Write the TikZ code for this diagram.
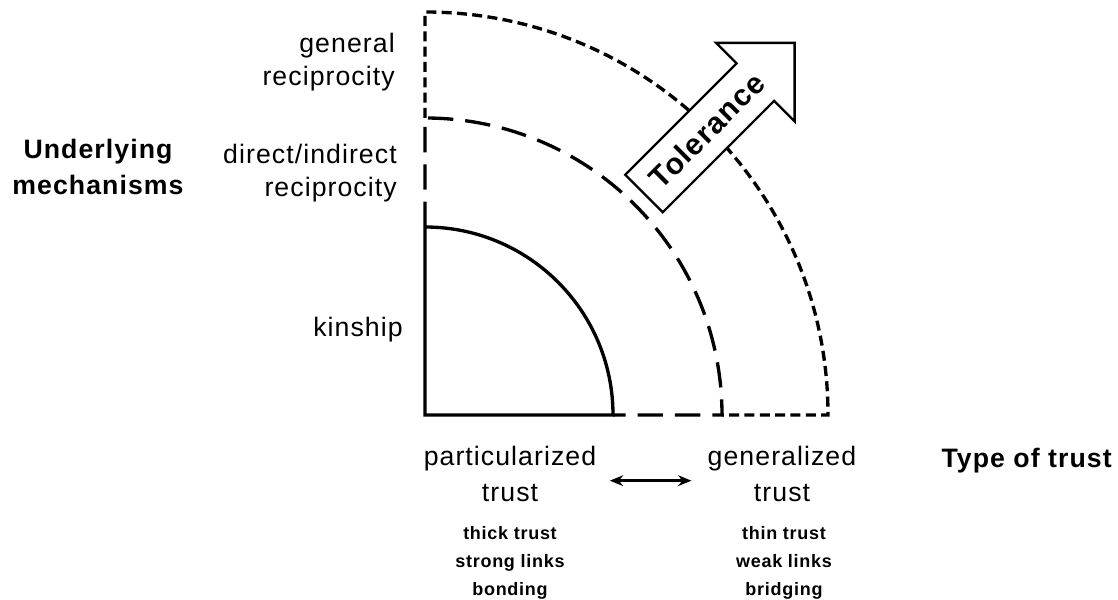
\documentclass[tikz,border=0pt]{standalone}
\usepackage{fontspec}
\setmainfont{Liberation Sans}[LetterSpace=4]
\usetikzlibrary{arrows.meta}
\tikzset{
  ring/.style={line width=2.5pt, line join=miter},
  shortdash/.style={ring, dash pattern=on 7.5pt off 4pt},
  longdash/.style={ring, dash pattern=on 19pt off 9pt},
  mech/.style={inner sep=0pt, align=right, font=\fontsize{20}{25}\selectfont},
  trusttype/.style={inner sep=0pt, align=center, font=\fontsize{20}{27.5}\selectfont},
  traits/.style={inner sep=0pt, align=center, font=\bfseries\fontsize{13.5}{21}\selectfont},
  axislabel/.style={inner sep=0pt, align=center, font=\bfseries\fontsize{20}{27.5}\selectfont}
}
\begin{document}
\begin{tikzpicture}[x=0.75pt, y=0.75pt]
  \useasboundingbox (0,0) rectangle (1118,600);
  \coordinate (O) at (425,185);
  % outer sector
  \draw[shortdash] (O) ++(0,297) -- ++(0,106) arc[start angle=90, end angle=0, radius=403] -- ++(-106,0);
  % tolerance arrow
  \begin{scope}[shift={(644,406.5)}, rotate=45]
    \draw[line width=1.8pt, fill=white] (0,-26.5) -- (157.5,-26.5) -- (157.5,-55.5) -- (213,0)
      -- (157.5,55.5) -- (157.5,26.5) -- (0,26.5) -- cycle;
    \node[rotate=45, inner sep=0pt, font=\bfseries\fontsize{22.5}{26}\selectfont] (tolerance) at (89,0) {Tolerance};
  \end{scope}
  % middle sector
  \draw[longdash] (O) ++(0,188) -- ++(0,109) arc[start angle=90, end angle=0, radius=297] -- ++(-109,0);
  % inner sector
  \draw[ring] (O) ++(0,188) -- (O) -- ++(188,0) arc[start angle=0, end angle=90, radius=188];

  \node[mech, anchor=east] (general) at (395,538) {general\\reciprocity};
  \node[mech, anchor=east] (direct) at (397,427) {direct/indirect\\reciprocity};
  \node[mech, anchor=east] (kinship) at (403,270) {kinship};
  \node[axislabel] (mechanisms) at (98,433) {Underlying\\mechanisms};

  \node[trusttype] (particular) at (510,126) {particularized\\trust};
  \node[trusttype] (generalized) at (782,126) {generalized\\trust};
  \node[traits] (thick) at (510,37) {thick trust\\strong links\\bonding};
  \node[traits] (thin) at (784,37) {thin trust\\weak links\\bridging};
  \node[axislabel, anchor=east] (type) at (1112,139) {Type of trust};

  \draw[{Stealth[length=10pt,width=8pt]}-{Stealth[length=10pt,width=8pt]}, line width=1.8pt, shorten <=10pt, shorten >=12pt]
    ([yshift=-5pt]particular.east) -- ([yshift=-5pt]generalized.west);
\end{tikzpicture}
\end{document}
